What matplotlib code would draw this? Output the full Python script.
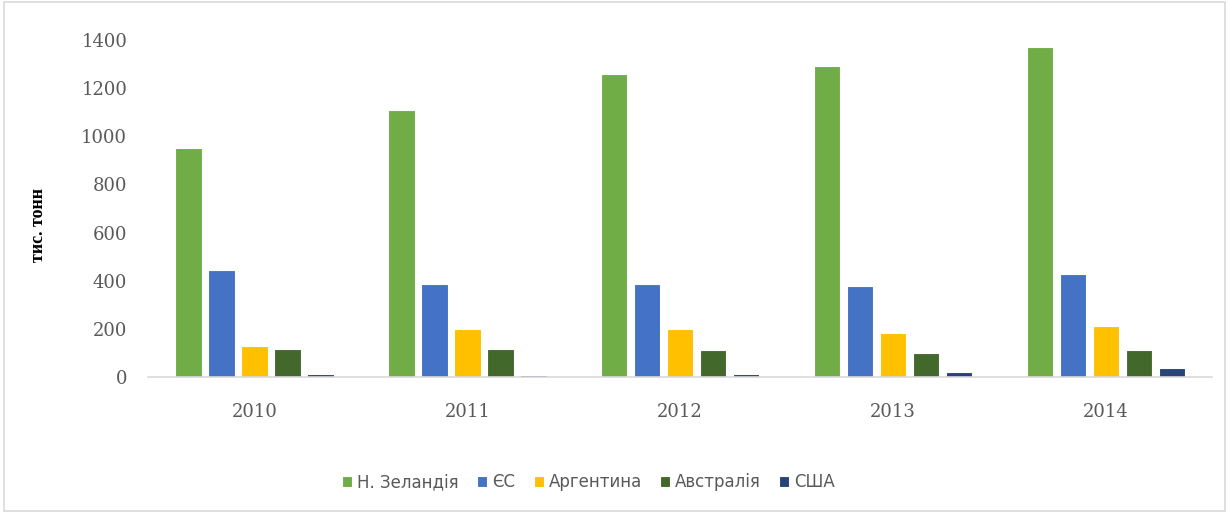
import numpy as np
import matplotlib.pyplot as plt
from matplotlib.patches import Rectangle

# ==========================================================
# ДАНІ
# ==========================================================

roky = ["2010", "2011", "2012", "2013", "2014"]

n_zelandiya = [950, 1110, 1260, 1290, 1370]
yes = [445, 386, 386, 377, 429]
argentyna = [130, 199, 200, 184, 210]
avstraliya = [115, 115, 111, 98, 111]
ssha = [12, 8, 14, 19, 36]

nazvy = ["Н. Зеландія", "ЄС", "Аргентина", "Австралія", "США"]
kolory = ["#70ad47", "#4472c4", "#ffc000", "#43682b", "#264478"]

# ==========================================================
# ГРАФІК
# ==========================================================

fig = plt.figure(figsize=(12.29, 5.13), dpi=100)
ax = fig.add_axes([0.1204, 0.265, 0.866, 0.657])

fig.patches.append(Rectangle((0.003, 0.004), 0.994, 0.992,
                             transform=fig.transFigure, fill=False,
                             edgecolor="#d9d9d9", linewidth=1.2))

x = np.arange(len(roky))
shyryna = 0.125
krok = 0.155
serii = [n_zelandiya, yes, argentyna, avstraliya, ssha]

for i, (znach, nazva, kolir) in enumerate(zip(serii, nazvy, kolory)):
    ax.bar(x + (i - 2) * krok, znach, width=shyryna, color=kolir,
           edgecolor="white", linewidth=0.8, label=nazva)

ax.set_xlim(-0.5, 4.5)
ax.set_ylim(0, 1400)
ax.set_yticks(range(0, 1401, 200))
ax.set_xticks(x)
ax.set_xticklabels(roky)

for s in ["top", "right", "left"]:
    ax.spines[s].set_visible(False)
ax.spines["bottom"].set_color("#d9d9d9")
ax.spines["bottom"].set_linewidth(1.2)

ax.tick_params(axis="both", length=0, colors="#595959")
ax.tick_params(axis="y", pad=15)
ax.tick_params(axis="x", pad=19)
for lab in ax.get_yticklabels() + ax.get_xticklabels():
    lab.set_fontfamily("DejaVu Serif")
    lab.set_fontsize(13)

fig.text(0.031, 0.561, "тис. тонн", rotation=90, ha="center", va="center",
         fontfamily="Liberation Serif", fontweight="bold", fontsize=13)

fig.legend(loc="center", bbox_to_anchor=(0.479, 0.06), ncol=5, frameon=False,
           prop={"family": "DejaVu Sans", "size": 12},
           handlelength=0.6, handleheight=0.6, handletextpad=0.3,
           columnspacing=1.1, labelcolor="#595959")

fig.savefig("out.png", dpi=100)
